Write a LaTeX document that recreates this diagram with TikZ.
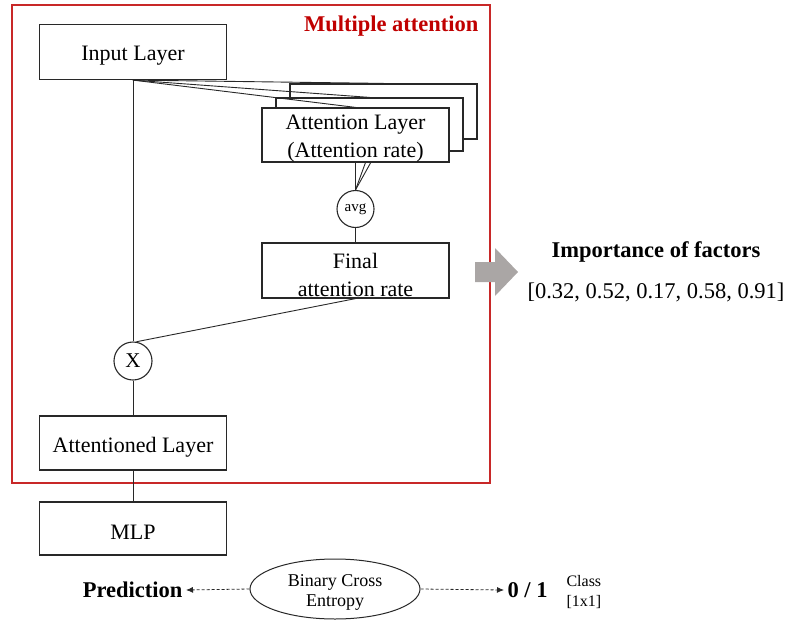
\documentclass[tikz,border=0pt]{standalone}
\usepackage{fontspec}
\setmainfont{Liberation Serif}
\usetikzlibrary{arrows.meta,shapes.geometric}
\definecolor{framered}{RGB}{200,40,40}
\definecolor{titlered}{RGB}{192,0,0}
\definecolor{arrowgray}{RGB}{170,166,165}
\definecolor{linegray}{RGB}{40,40,40}
\tikzset{
  layerbox/.style={draw=linegray, line width=1.2pt, fill=white, minimum width=187pt,
    inner sep=0pt},
  boxtext/.style={font=\fontsize{22}{28}\selectfont, align=center, inner sep=0pt},
  opcircle/.style={draw=linegray, line width=1.1pt, circle, fill=white, inner sep=0pt},
  wire/.style={draw=linegray, line width=0.9pt},
  dasharrow/.style={draw=linegray, line width=0.8pt, dashed, dash pattern=on 3pt off 2pt,
    -{Latex[length=7pt,width=6pt]}},
  boldlabel/.style={font=\fontsize{22.5}{27}\selectfont\bfseries},
}
\begin{document}
\begin{tikzpicture}[x=1pt,y=-1pt]
\useasboundingbox (0,0) rectangle (787,621);

% frame of the attention block
\draw[framered, line width=1.3pt] (12,5) rectangle (490,483);
\node[boldlabel, text=titlered, anchor=east] (title) at (482,26) {Multiple attention};

% stacked attention layers, back to front
\node[layerbox, minimum height=55pt] (att3) at (383.5,111.5) {};
\node[layerbox, minimum height=53pt] (att2) at (369.5,124.5) {};

% averaging node and its incoming lines (drawn under the front box)
\node[opcircle, minimum size=37pt, font=\fontsize{15}{18}\selectfont] (avg) at (355.5,209) {avg};
\draw[wire] (att3.south) -- (avg.north);
\draw[wire] (att2.south) -- (avg.north);

\node[layerbox, minimum height=54pt] (att1) at (355.5,135) {};
\node[boxtext] (att1txt) at ([yshift=-4pt]att1.center) {Attention Layer\\(Attention rate)};
\draw[wire] (att1.south) -- (avg.north);

% input layer and its connections
\node[layerbox, minimum height=55pt] (inp) at (133,52) {};
\node[boxtext] (inptxt) at ([yshift=-4pt]inp.center) {Input Layer};
\draw[wire] (inp.south) -- (att3.north);
\draw[wire] (inp.south) -- (att2.north);
\draw[wire] (inp.south) -- (att1.north);

% final attention rate
\node[layerbox, minimum height=55pt] (final) at (355.5,270.5) {};
\node[boxtext] (finaltxt) at ([yshift=-4pt]final.center) {Final\\attention rate};
\draw[wire] (avg.south) -- (final.north);

% multiplication
\node[opcircle, minimum size=38pt, font=\fontsize{21}{24}\selectfont] (mul) at (133,361) {X};
\draw[wire] (inp.south) -- (mul.north);
\draw[wire] (final.south) -- (mul.80);

% attentioned layer and MLP
\node[layerbox, minimum height=54pt] (attd) at (133,443) {};
\node[boxtext] (attdtxt) at ([yshift=-4pt]attd.center) {Attentioned Layer};
\draw[wire] (mul.south) -- (attd.north);
\node[layerbox, minimum height=53pt] (mlp) at (133,528.5) {};
\node[boxtext] (mlptxt) at ([yshift=-4pt]mlp.center) {MLP};
\draw[wire] (attd.south) -- (mlp.north);

% output to the factor importance
\fill[arrowgray] (475,262) -- (495,262) -- (495,248) -- (518,272) -- (495,296)
  -- (495,282) -- (475,282) -- cycle;
\node[boldlabel] (imp) at (656,252) {Importance of factors};
\node[font=\fontsize{22.5}{26}\selectfont] (vals) at (656,292) {[0.32, 0.52, 0.17, 0.58, 0.91]};

% loss
\node[draw=linegray, line width=1pt, ellipse, minimum width=170pt, minimum height=60pt,
  inner sep=0pt] (bce) at (335,589) {};
\node[font=\fontsize{18}{20}\selectfont, align=center] (bcetxt) at ([yshift=-3pt]bce.center)
  {Binary Cross\\Entropy};
\node[boldlabel, anchor=east] (pred) at (186,590) {Prediction};
\node[boldlabel, anchor=west] (cls) at (504,590) {0 / 1};
\node[font=\fontsize{16}{20}\selectfont, align=left, anchor=west] (clsdim) at (563,592)
  {Class\\{[}1x1{]}};
\draw[dasharrow] (bce.west) -- (pred.east);
\draw[dasharrow] (bce.east) -- (cls.west);
\end{tikzpicture}
\end{document}
